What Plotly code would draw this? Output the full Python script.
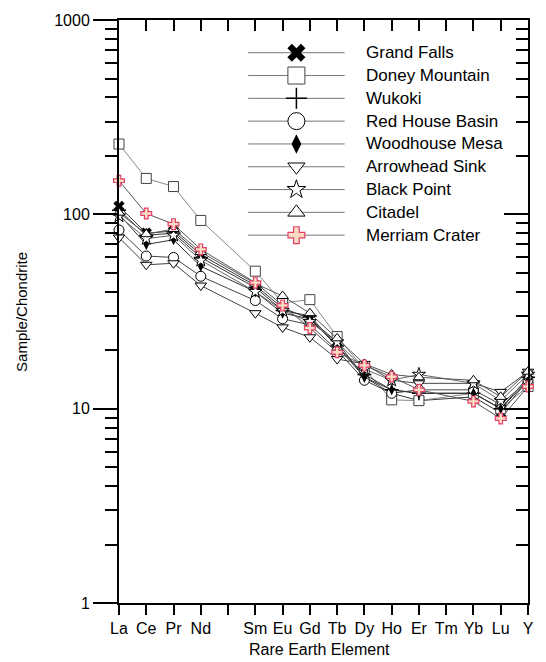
import plotly.graph_objects as go

elements = ["La", "Ce", "Pr", "Nd", "Pm", "Sm", "Eu", "Gd", "Tb", "Dy", "Ho", "Er", "Tm", "Yb", "Lu", "Y"]
tick_labels = ["La", "Ce", "Pr", "Nd", "", "Sm", "Eu", "Gd", "Tb", "Dy", "Ho", "Er", "Tm", "Yb", "Lu", "Y"]

# Sample/Chondrite values (None = not analysed)
grand_falls      = [110, 80, 82, 62, None, 43, 33, 29, 22, 14.5, 12.0, 11.0, None, 11.5, 9.5, 14.0]
doney_mountain   = [230, 153, 139, 93, None, 51, 35, 36.4, 23.5, 16.0, 11.1, 11.0, None, 12.0, 10.0, 13.0]
wukoki           = [105, 78, 80, 60, None, 42, 32, 30, 21, 15.0, 12.5, 12.0, None, 12.0, 10.0, 14.5]
red_house_basin  = [83, 61, 60, 48, None, 36, 29, 27, 20, 14.0, 12.0, 12.5, None, 12.5, 10.5, 14.0]
woodhouse_mesa   = [100, 70, 74, 54, None, 40, 31, 29, 21, 14.5, 12.5, 12.0, None, 12.0, 10.0, 14.0]
arrowhead_sink   = [76, 55, 56, 43, None, 31, 26.2, 23.3, 18, 17.0, 14.0, 13.5, None, 13.5, 12.2, 15.5]
black_point      = [98, 75, 78, 58, None, 40, 32, 28, 22, 16.0, 14.0, 15.0, None, 13.5, 11.0, 15.0]
citadel          = [102, 79, 84, 64, None, 44, 38, 31, 23, 17.0, 15.0, 14.5, None, 14.0, 11.5, 15.5]
merriam_crater   = [149, 101, 89, 66, None, 44.5, 34, 26, 19.5, 16.7, 14.6, 12.5, None, 10.9, 8.9, 13.0]

series_names = ["Grand Falls", "Doney Mountain", "Wukoki", "Red House Basin", "Woodhouse Mesa",
                "Arrowhead Sink", "Black Point", "Citadel", "Merriam Crater"]
series_values = [grand_falls, doney_mountain, wukoki, red_house_basin, woodhouse_mesa,
                 arrowhead_sink, black_point, citadel, merriam_crater]

styles = [
    dict(symbol="x", color="black", lc="black", lw=0, line="#333333"),
    dict(symbol="square", color="white", lc="#444444", lw=1, line="#888888"),
    dict(symbol="cross-thin", color="black", lc="black", lw=1.5, line="#333333"),
    dict(symbol="circle", color="white", lc="black", lw=1, line="#444444"),
    dict(symbol="diamond-tall", color="black", lc="black", lw=0, line="#333333"),
    dict(symbol="triangle-down", color="white", lc="black", lw=1, line="#444444"),
    dict(symbol="star", color="white", lc="black", lw=1, line="#666666"),
    dict(symbol="triangle-up", color="white", lc="black", lw=1, line="#555555"),
    dict(symbol="cross", color="#fbdcc0", lc="#e0406a", lw=1.2, line="#555555"),
]
data_sizes = [10, 10, 10, 10, 8, 10, 10, 10, 9]
legend_sizes = [16, 17, 15, 17, 14, 15, 14, 15, 14]

W, H = 546, 662
L, R, T, B = 119, 534, 15, 603
FONT = "Liberation Sans, Arial"

fig = go.Figure()

for name, vals, st, sz in zip(series_names, series_values, styles, data_sizes):
    fig.add_trace(go.Scatter(
        x=elements, y=vals, name=name, mode="lines+markers", connectgaps=True,
        line=dict(color=st["line"], width=1),
        marker=dict(symbol=st["symbol"], size=sz, color=st["color"],
                    line=dict(color=st["lc"], width=st["lw"])),
        cliponaxis=False, showlegend=False))

# dummy trace to register the mirrored axes
fig.add_trace(go.Scatter(x=[], y=[], xaxis="x2", yaxis="y2", showlegend=False, hoverinfo="skip"))

# manual legend in a pixel-like overlay axis
leg_rows = [48 + 23 * i for i in range(len(series_names))]
for name, st, sz, yrow in zip(series_names, styles, legend_sizes, leg_rows):
    fig.add_trace(go.Scatter(x=[250, 348], y=[yrow, yrow], mode="lines", xaxis="x3", yaxis="y3",
                             line=dict(color="#777777", width=1), showlegend=False, hoverinfo="skip"))
    fig.add_trace(go.Scatter(x=[299], y=[yrow], mode="markers", xaxis="x3", yaxis="y3",
                             marker=dict(symbol=st["symbol"], size=sz, color=st["color"],
                                         line=dict(color=st["lc"], width=st["lw"])),
                             showlegend=False, hoverinfo="skip", cliponaxis=False))
    fig.add_annotation(x=368, y=yrow, xref="x3", yref="y3", text=name, showarrow=False,
                       xanchor="left", yanchor="middle",
                       font=dict(family=FONT, size=17, color="black"))

minor_vals = [m * 10 ** e for e in range(0, 3) for m in range(2, 10)]
font = dict(family=FONT, size=16, color="black")

fig.update_layout(
    width=W, height=H,
    margin=dict(l=L, r=W - R, t=T, b=H - B, pad=0),
    plot_bgcolor="white", paper_bgcolor="white",
    showlegend=False,
    font=font,
    xaxis=dict(type="category", categoryorder="array", categoryarray=elements,
               range=[0, len(elements) - 1], tickmode="array", tickvals=elements, ticktext=tick_labels,
               ticks="outside", ticklen=10, tickwidth=1.5, tickcolor="black",
               showline=True, linecolor="black", linewidth=2, showgrid=False, zeroline=False,
               tickfont=font),
    xaxis2=dict(overlaying="x", side="top", anchor="y", range=[0, len(elements) - 1],
                tick0=0, dtick=1, ticks="inside", ticklen=11, tickwidth=1.5, tickcolor="black",
                showticklabels=False, showline=True, linecolor="black", linewidth=1.5,
                showgrid=False, zeroline=False),
    yaxis=dict(type="log", range=[0, 3], tickmode="array", tickvals=[1, 10, 100, 1000],
               ticktext=["1", "10", "100", "1000"],
               ticks="outside", ticklen=24, tickwidth=1.5, tickcolor="black",
               minor=dict(tickmode="array", tickvals=minor_vals, ticks="outside", ticklen=12,
                          tickwidth=1.5, tickcolor="black", showgrid=False),
               showline=True, linecolor="black", linewidth=2, showgrid=False, zeroline=False,
               tickfont=font),
    yaxis2=dict(type="log", overlaying="y", side="right", anchor="x", range=[0, 3],
                tickmode="array", tickvals=[1, 10, 100, 1000],
                ticks="inside", ticklen=24, tickwidth=1.5, tickcolor="black",
                minor=dict(tickmode="array", tickvals=minor_vals, ticks="inside", ticklen=12,
                           tickwidth=1.5, tickcolor="black", showgrid=False),
                showticklabels=False, showline=True, linecolor="black", linewidth=1.5,
                showgrid=False, zeroline=False),
    xaxis3=dict(overlaying="x", range=[L, R], visible=False, anchor="y3"),
    yaxis3=dict(overlaying="y", range=[B, T], visible=False, anchor="x3"),
)

fig.add_annotation(text="Sample/Chondrite", textangle=-90, xref="paper", yref="paper",
                   x=(20 - L) / (R - L), y=0.5, xanchor="center", yanchor="middle", showarrow=False,
                   font=dict(family=FONT, size=15, color="black"))
fig.add_annotation(text="Rare Earth Element", xref="paper", yref="paper",
                   x=(322 - L) / (R - L), y=(B - 650) / (B - T), xanchor="center", yanchor="middle",
                   showarrow=False, font=dict(family=FONT, size=16, color="black"))

fig.write_html("out.html", config={"displayModeBar": False},
               post_script="document.body.style.margin='0';document.body.style.padding='0';")
